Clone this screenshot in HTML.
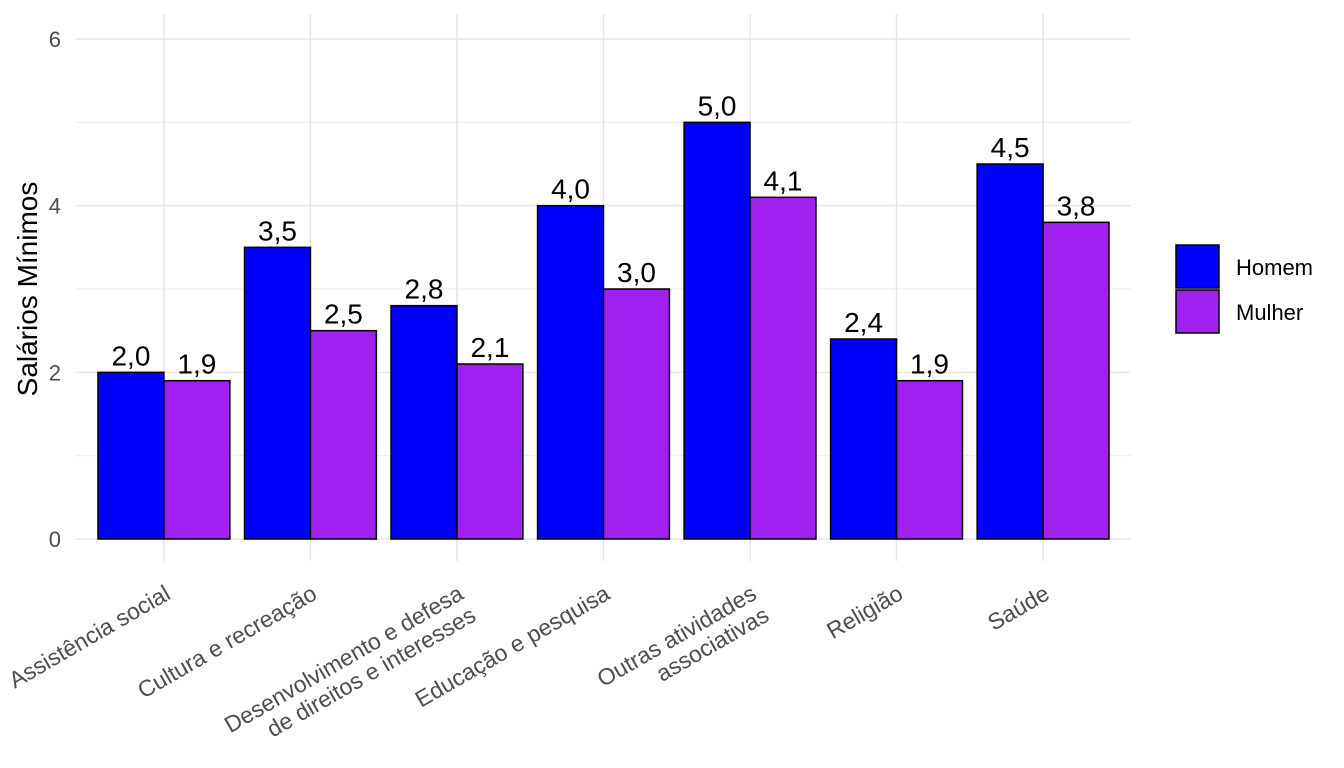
<!DOCTYPE html>
<html><head><meta charset="utf-8"><style>
body{margin:0;background:#fff}
svg{display:block;font-family:"Liberation Sans",Arial,sans-serif}
</style></head><body>
<svg id="chart" width="1344" height="768"></svg>
<script>
const categories=[["Assistência social"],["Cultura e recreação"],["Desenvolvimento e defesa","de direitos e interesses"],["Educação e pesquisa"],["Outras atividades","associativas"],["Religião"],["Saúde"]];
const homem=[2.0,3.5,2.8,4.0,5.0,2.4,4.5];
const mulher=[1.9,2.5,2.1,3.0,4.1,1.9,3.8];
const yTicks=[0,2,4,6];
const yMinor=[1,3,5];
const seriesNames=["Homem","Mulher"];
const colors=["#0000FF","#A020F0"];

const NS="http://www.w3.org/2000/svg";
const svg=document.getElementById('chart');
function mk(t,a,p){const e=document.createElementNS(NS,t);for(const k in a)e.setAttribute(k,a[k]);(p||svg).appendChild(e);return e;}
const x0=76,x1=1131,yBase=539,yTop=39,yMax=6;
const step=(x1-x0)/(categories.length+0.2);
const xc=i=>x0+step*(0.6+i);
const y=v=>yBase-(v/yMax)*(yBase-yTop);
const bw=step*0.45;

yMinor.forEach(v=>{const l=mk('line',{x1:x0,x2:x1,y1:y(v),y2:y(v),stroke:'#ebebeb','stroke-width':1});
});
yTicks.forEach(v=>{const l=mk('line',{x1:x0,x2:x1,y1:y(v),y2:y(v),stroke:'#e5e5e5','stroke-width':1.5});

const t=mk('text',{x:61,y:y(v)+8,'text-anchor':'end','font-size':22,fill:'#4d4d4d'});t.textContent=v;
});
categories.forEach((c,i)=>{const l=mk('line',{x1:xc(i),x2:xc(i),y1:yTop-25,y2:yBase+22,stroke:'#e5e5e5','stroke-width':1.5});
});

[homem,mulher].forEach((arr,s)=>{arr.forEach((v,i)=>{
const bx=xc(i)-bw+s*bw;
const r=mk('rect',{x:bx,y:y(v),width:bw,height:yBase-y(v),fill:colors[s],stroke:'#000','stroke-width':1.5});

const t=mk('text',{x:bx+bw/2,y:y(v)-7,'text-anchor':'middle','font-size':28,fill:'#000'});
t.textContent=v.toFixed(1).replace('.',',');

});});

categories.forEach((c,i)=>{
const g=mk('g',{transform:`translate(${xc(i)+8},598) rotate(-30)`});

c.forEach((ln,k)=>{const t=mk('text',{x:0,y:k*25,'text-anchor':'end','font-size':23,fill:'#4d4d4d'},g);t.textContent=ln;});
});

const yt=mk('text',{transform:'translate(37,289) rotate(-90)','text-anchor':'middle','font-size':28,fill:'#000'});
yt.textContent='Salários Mínimos';


seriesNames.forEach((n,s)=>{
const g=mk('g',{});

mk('rect',{x:1176,y:245+s*45,width:43,height:43,fill:colors[s],stroke:'#000','stroke-width':1.5},g);
const t=mk('text',{x:1236,y:275+s*45,'font-size':22,fill:'#000'},g);t.textContent=n;
});
</script>
</body></html>
